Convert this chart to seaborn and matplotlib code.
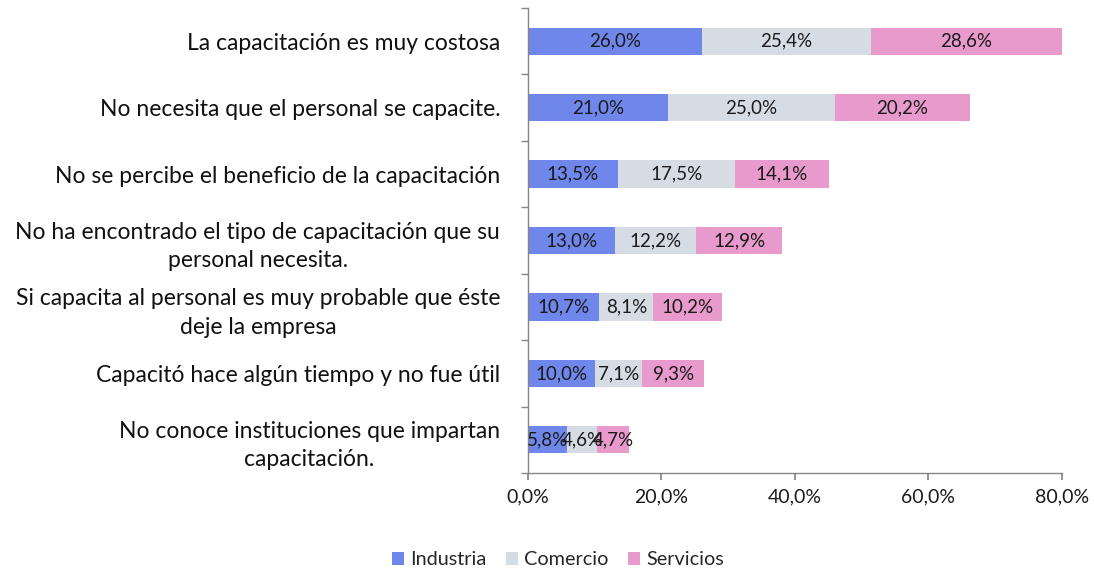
import numpy as np
import pandas as pd
import seaborn as sns
import matplotlib.pyplot as plt
from matplotlib.patches import Patch
from matplotlib.ticker import FuncFormatter, FixedLocator

categories = [
    "La capacitación es muy costosa",
    "No necesita que el personal se capacite.",
    "No se percibe el beneficio de la capacitación",
    "No ha encontrado el tipo de capacitación que su\npersonal necesita.",
    "Si capacita al personal es muy probable que éste\ndeje la empresa",
    "Capacitó hace algún tiempo y no fue útil",
    "No conoce instituciones que impartan\ncapacitación.",
]
industria = [26.0, 21.0, 13.5, 13.0, 10.7, 10.0, 5.8]
comercio = [25.4, 25.0, 17.5, 12.2, 8.1, 7.1, 4.6]
servicios = [28.6, 20.2, 14.1, 12.9, 10.2, 9.3, 4.7]
series_names = ["Industria", "Comercio", "Servicios"]
colors = ["#6f87ea", "#d6dce4", "#e79acb"]

sns.set_theme(style="white")
plt.rcParams['font.family'] = ['Lato', 'DejaVu Sans']

df = pd.DataFrame({"cat": categories, "Industria": industria,
                   "Comercio": comercio, "Servicios": servicios})
cum = df[series_names].cumsum(axis=1)

fig, ax = plt.subplots(figsize=(10.94, 5.72), dpi=100)
fig.subplots_adjust(left=0.4826, right=0.9707, top=0.986, bottom=0.173)

# stacked: draw cumulative totals from largest to smallest
for name, col in reversed(list(zip(series_names, colors))):
    sns.barplot(x=cum[name], y=df["cat"], orient="h", color=col,
                width=0.41, linewidth=0, saturation=1, ax=ax)

def fmt(v):
    return f"{v:.1f}%".replace(".", ",")

for i in range(len(categories)):
    left = 0
    for name in series_names:
        v = df[name][i]
        ax.text(left + v / 2, i, fmt(v), ha="center", va="center",
                fontsize=13.5, color="#1a1a1a")
        left += v

ax.set_xlim(0, 80)
ax.set_ylim(len(categories) - 0.5, -0.5)
ax.xaxis.set_major_locator(FixedLocator([0, 20, 40, 60, 80]))
ax.xaxis.set_major_formatter(FuncFormatter(lambda v, p: fmt(v)))
ax.set_xlabel("")
ax.set_ylabel("")

# y tick marks at category boundaries
ax.set_yticks(np.arange(-0.5, len(categories), 1), minor=True)
ax.tick_params(axis="y", which="major", length=0, pad=20, labelsize=16.5,
               colors="#111111")
ax.tick_params(axis="y", which="minor", length=5, color="#868686", left=True)
ax.tick_params(axis="x", which="major", length=5, color="#868686",
               bottom=True, labelsize=14, colors="#1a1a1a", pad=6)
for lab in ax.get_yticklabels():
    lab.set_multialignment("center")
    lab.set_linespacing(1.45)

for s in ["top", "right"]:
    ax.spines[s].set_visible(False)
for s in ["left", "bottom"]:
    ax.spines[s].set_color("#868686")
    ax.spines[s].set_linewidth(1)

handles = [Patch(facecolor=c, edgecolor="none", label=n)
           for n, c in zip(series_names, colors)]
fig.legend(handles=handles, loc="lower center", bbox_to_anchor=(0.51, -0.025),
           ncol=3, frameon=False, fontsize=14.3, handlelength=0.6,
           handleheight=0.6, handletextpad=0.3, columnspacing=1.0)

fig.savefig("out.png", dpi=100)
